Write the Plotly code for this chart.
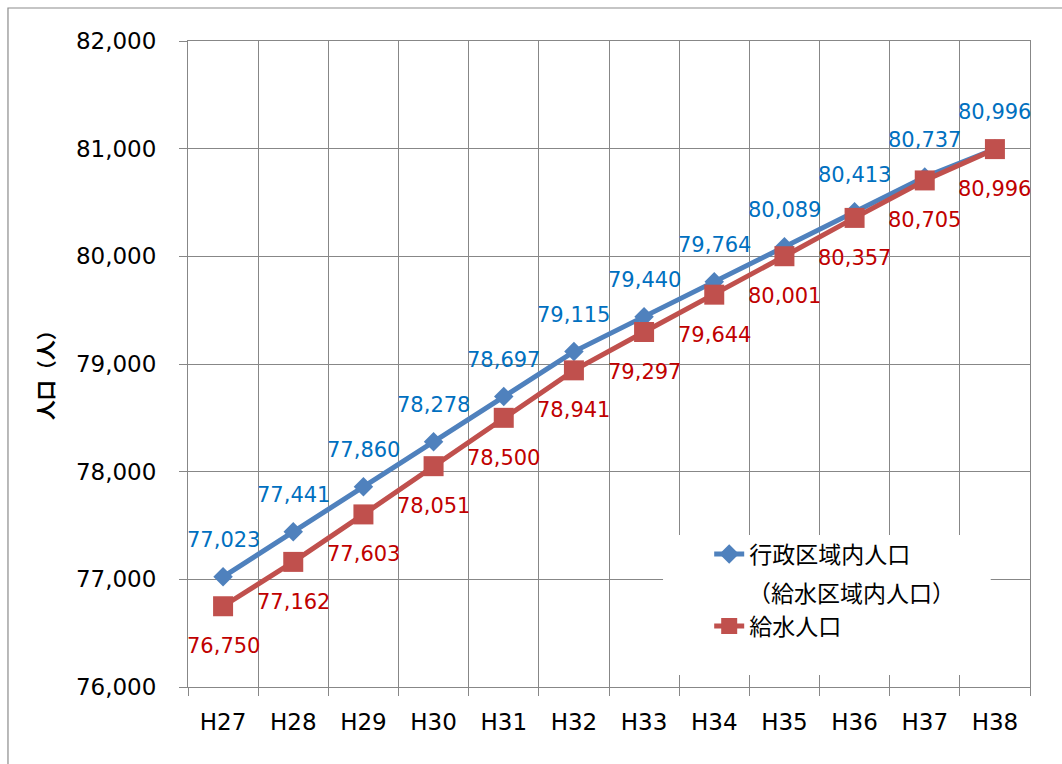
import plotly.graph_objects as go

categories = ["H27", "H28", "H29", "H30", "H31", "H32", "H33", "H34", "H35", "H36", "H37", "H38"]
admin_pop = [77023, 77441, 77860, 78278, 78697, 79115, 79440, 79764, 80089, 80413, 80737, 80996]
supply_pop = [76750, 77162, 77603, 78051, 78500, 78941, 79297, 79644, 80001, 80357, 80705, 80996]
name_admin = "行政区域内人口"
name_admin_sub = "（給水区域内人口）"
name_supply = "給水人口"
y_title = "人口（人）"

BLUE = "#4F81BD"
RED = "#C0504D"
BLUE_TXT = "#0070C0"
RED_TXT = "#C00000"
GRID = "#878787"
NUM_FONT = "Verdana, DejaVu Sans, sans-serif"
JP_FONT = "Noto Sans CJK JP, sans-serif"

fig = go.Figure()
fig.add_trace(go.Scatter(
    x=categories, y=admin_pop, name=name_admin, mode="lines+markers",
    legendgroup="a",
    line=dict(color=BLUE, width=5),
    marker=dict(symbol="diamond", size=15, color=BLUE),
))
fig.add_trace(go.Scatter(
    x=categories, y=supply_pop, name=name_supply, mode="lines+markers",
    legendgroup="b",
    line=dict(color=RED, width=5),
    marker=dict(symbol="square", size=20, color=RED),
))

for c, v in zip(categories, admin_pop):
    fig.add_annotation(x=c, y=v, text=f"{v:,}", showarrow=False, yshift=37,
                       font=dict(family=NUM_FONT, size=21, color=BLUE_TXT))
for c, v in zip(categories, supply_pop):
    fig.add_annotation(x=c, y=v, text=f"{v:,}", showarrow=False, yshift=-40,
                       font=dict(family=NUM_FONT, size=21, color=RED_TXT))

fig.add_annotation(xref="paper", yref="paper", x=-0.169, y=0.49, text=f"<b>{y_title}</b>",
                   textangle=-90, showarrow=False, xanchor="center", yanchor="middle",
                   font=dict(family=JP_FONT, size=20, color="black"))

# second line of the first legend entry
fig.add_annotation(xref="paper", yref="paper", x=(746 - 188) / 842, y=(687 - 592) / 646,
                   text=name_admin_sub, showarrow=False, xanchor="left", yanchor="middle",
                   font=dict(family=JP_FONT, size=23, color="black"))

# white box behind legend (covers gridlines)
fig.add_shape(type="rect", xref="x", yref="y", x0=6.27, x1=10.94, y0=76111, y1=77412,
              fillcolor="white", line=dict(width=0), layer="between")

# outer chart frame
fig.add_shape(type="rect", xref="paper", yref="paper", x0=-0.2138, x1=1.2, y0=-0.3, y1=1.0511,
              fillcolor="rgba(0,0,0,0)", line=dict(color="#8c8c8c", width=1.2), layer="above")

fig.update_layout(
    width=1062, height=764,
    margin=dict(l=188, r=32, t=41, b=77),
    paper_bgcolor="white", plot_bgcolor="white",
    showlegend=True,
    legend=dict(x=0.619, y=0.239, xanchor="left", yanchor="top",
                bgcolor="rgba(0,0,0,0)", valign="middle", tracegroupgap=39,
                font=dict(family=JP_FONT, size=23, color="black")),
    xaxis=dict(type="category", categoryorder="array", categoryarray=categories,
               range=[-0.5, 11.5], tickson="boundaries", showgrid=True,
               gridcolor=GRID, gridwidth=1, ticks="outside", ticklen=8, tickcolor=GRID,
               showline=True, linecolor=GRID, linewidth=1, mirror=True,
               ticklabelstandoff=14,
               tickfont=dict(family=NUM_FONT, size=23, color="black")),
    yaxis=dict(range=[76000, 82000], dtick=1000, tickformat=",", showgrid=True,
               gridcolor=GRID, gridwidth=1, ticks="outside", ticklen=8, tickcolor=GRID,
               showline=True, linecolor=GRID, linewidth=1, mirror=True, zeroline=False,
               ticklabelstandoff=18,
               tickfont=dict(family=NUM_FONT, size=23, color="black")),
)

fig.write_html("out.html")
